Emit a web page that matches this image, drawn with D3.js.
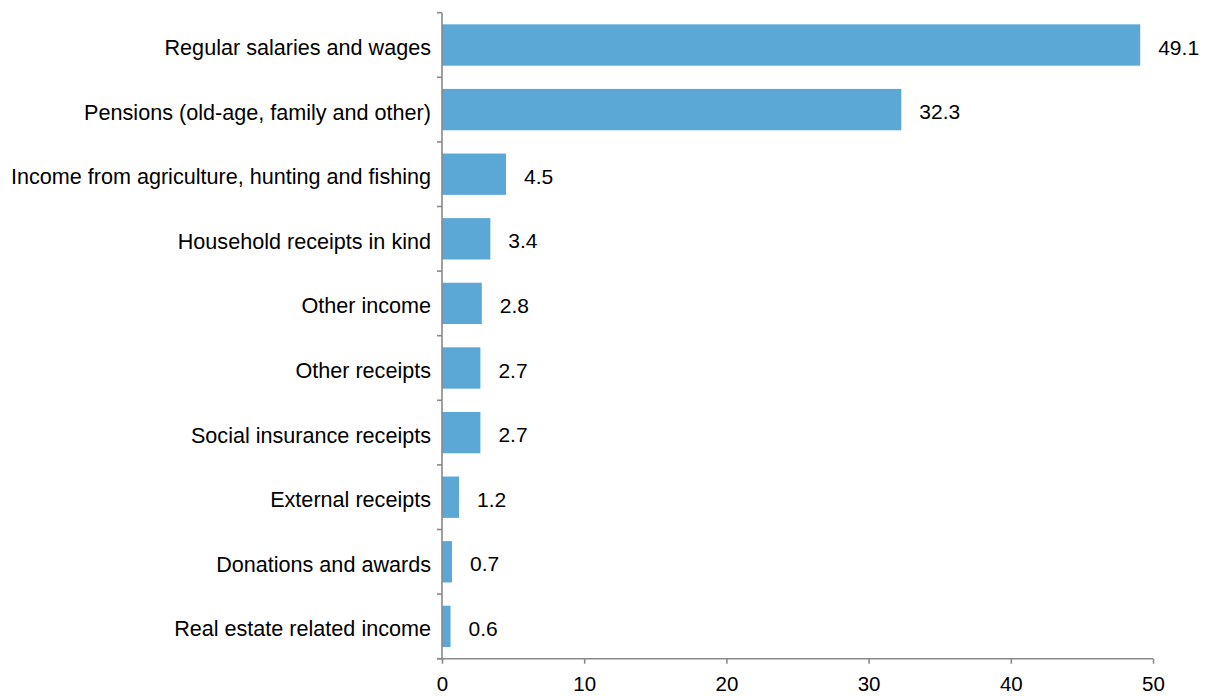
<!DOCTYPE html>
<html><head><meta charset="utf-8">
<script src="https://cdn.jsdelivr.net/npm/d3@7"></script>
<style>body{margin:0;background:#fff}svg{display:block}text{font-family:Arial,"Liberation Sans",sans-serif;fill:#000}</style>
</head><body>
<svg id="c" width="1208" height="696"></svg>
<script>
const categories = ["Regular salaries and wages","Pensions (old-age, family and other)","Income from agriculture, hunting and fishing","Household receipts in kind","Other income","Other receipts","Social insurance receipts","External receipts","Donations and awards","Real estate related income"];
const values = [49.1,32.3,4.5,3.4,2.8,2.7,2.7,1.2,0.7,0.6];
const valueLabels = ["49.1","32.3","4.5","3.4","2.8","2.7","2.7","1.2","0.7","0.6"];
const xTicks = [0,10,20,30,40,50];

(function(){
const svg = d3.select("#c");
const FS_CAT = 21.6, FS_NUM = 21, FS_TICK = 20.5;
const x = d3.scaleLinear().domain([0,50]).range([442,1153]);
const y = d3.scaleBand().domain(categories).range([12.7,658.7]).paddingInner(0.36).paddingOuter(0.18);
const axisColor = "#8a8a8a";

svg.selectAll("rect.bar").data(categories).enter().append("rect")
  .attr("x", x(0)).attr("y", d=>y(d))
  .attr("width", (d,i)=>x(values[i])-x(0)).attr("height", y.bandwidth())
  .attr("fill","#5ba8d7");

svg.selectAll("text.val").data(categories).enter().append("text")
  .attr("x",(d,i)=>x(values[i])+18).attr("y",d=>y(d)+y.bandwidth()/2+9.5)
  .attr("font-size",FS_NUM).text((d,i)=>valueLabels[i]);

svg.selectAll("text.cat").data(categories).enter().append("text")
  .attr("x",431).attr("y",d=>y(d)+y.bandwidth()/2+10)
  .attr("text-anchor","end").attr("font-size",FS_CAT).text(d=>d);

const yTop = 12.7, yBottom = 658.7, step = y.step();
svg.append("line").attr("x1",x(0)).attr("x2",x(0)).attr("y1",yTop).attr("y2",yBottom)
  .attr("stroke",axisColor).attr("stroke-width",1.6);
d3.range(categories.length+1).forEach(i=>{
  const yy = yTop + i*step;
  svg.append("line").attr("x1",x(0)-5).attr("x2",x(0)).attr("y1",yy).attr("y2",yy)
    .attr("stroke",axisColor).attr("stroke-width",1.6);
});

const xAxis = d3.axisBottom(x).tickValues(xTicks).tickSize(5).tickSizeOuter(0).tickFormat(d3.format("d"));
const gx = svg.append("g").attr("transform",`translate(0,${yBottom})`).call(xAxis);
gx.select(".domain").attr("stroke",axisColor).attr("stroke-width",1.6).attr("d",`M${x(0)-5},0H${x(50)}`);
gx.selectAll(".tick line").attr("stroke",axisColor).attr("stroke-width",1.6);
gx.selectAll(".tick text").attr("font-size",FS_TICK).attr("font-family","Arial, 'Liberation Sans', sans-serif")
  .attr("fill","#000").attr("dy",null).attr("y",32.8);
})();
</script>
</body></html>
